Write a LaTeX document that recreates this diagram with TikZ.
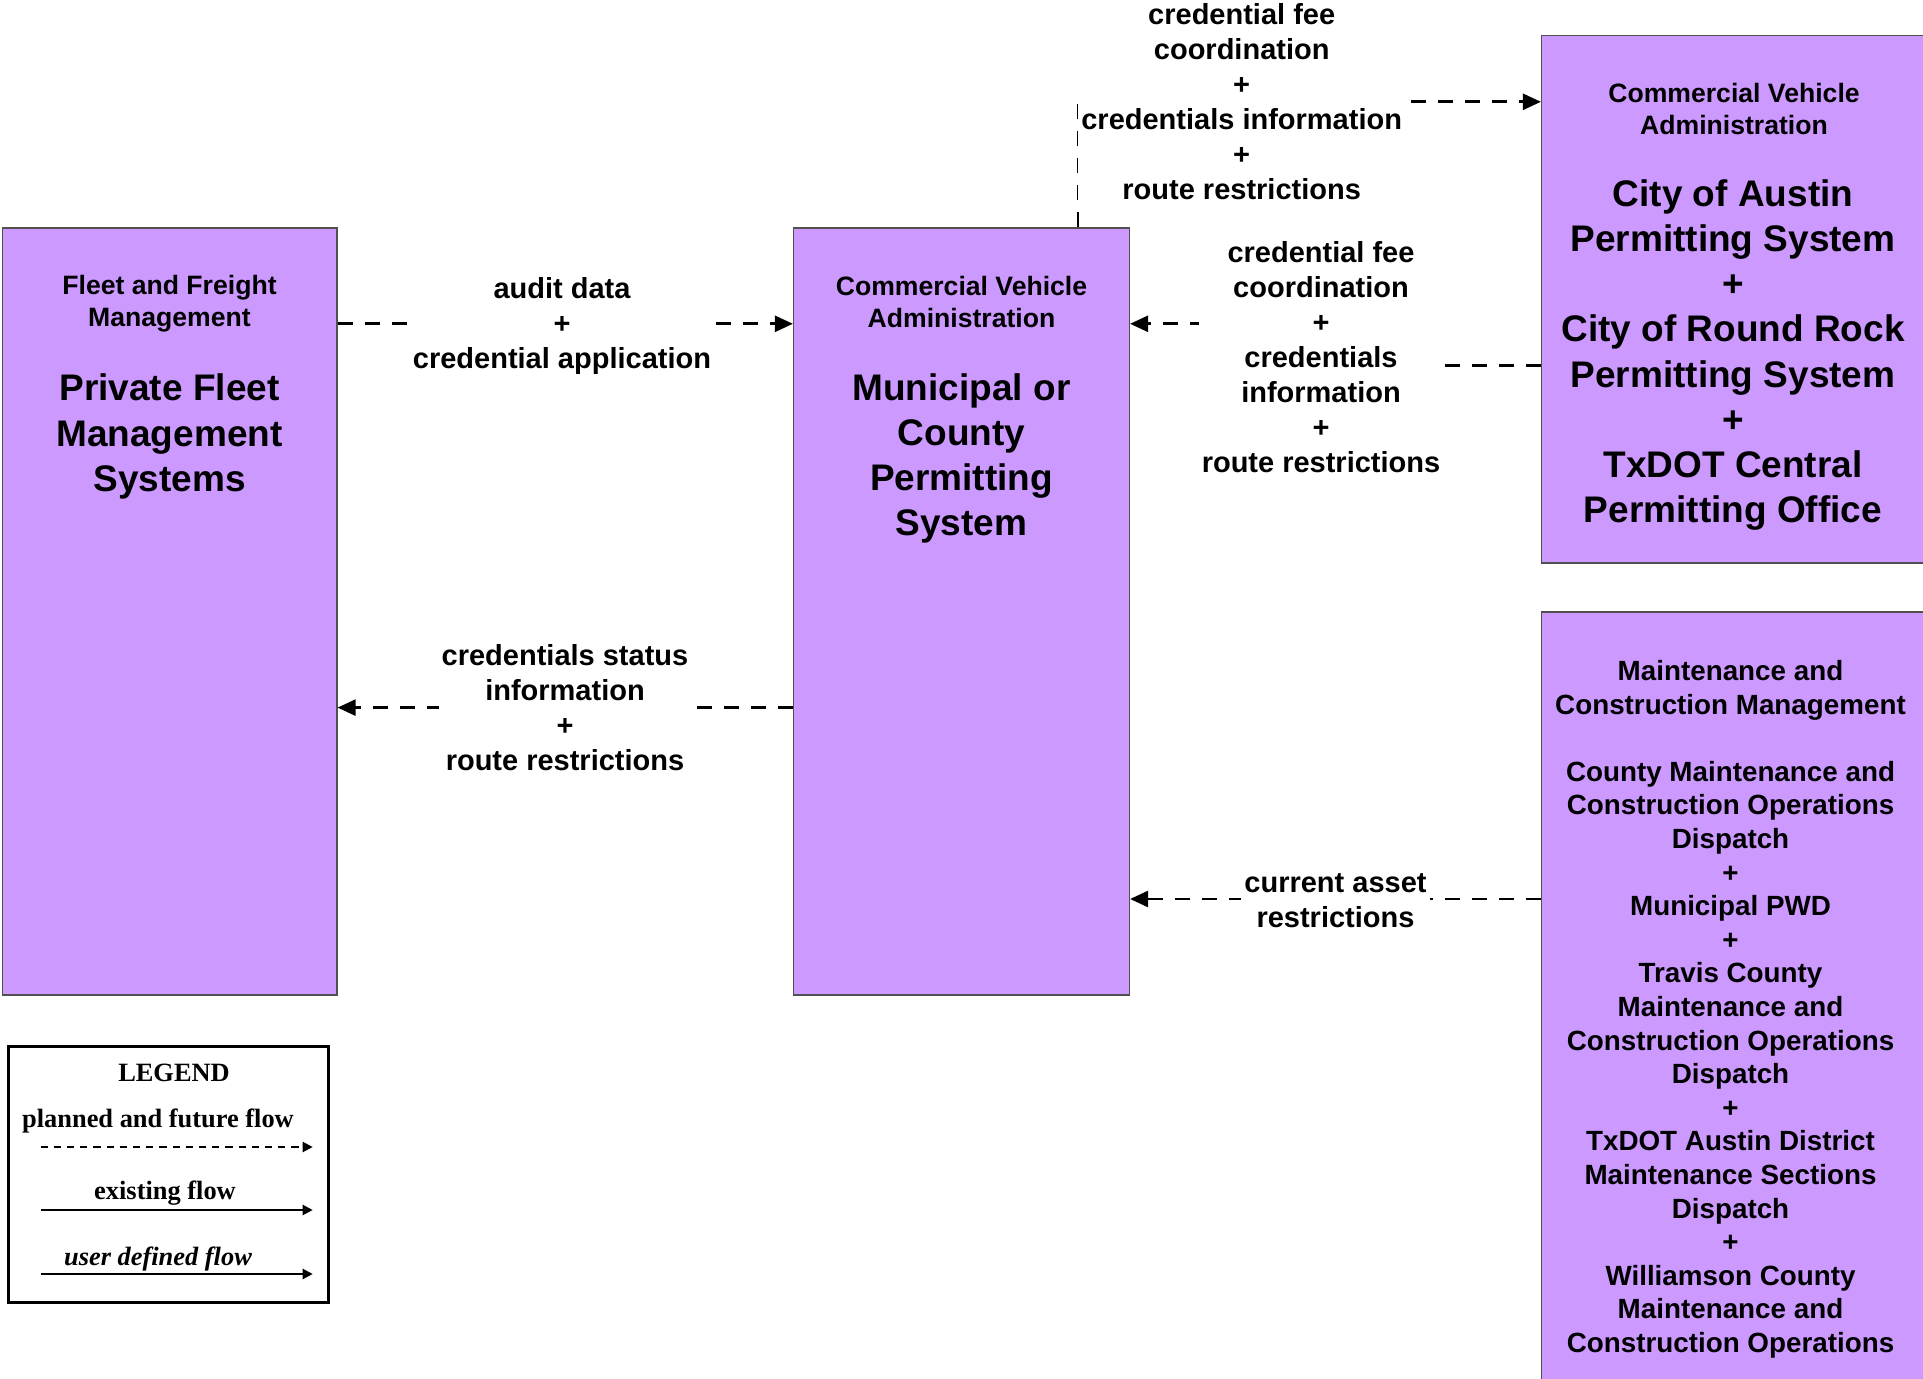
\documentclass[tikz,border=0pt]{standalone}
\usepackage{fontspec}
\setmainfont{Liberation Sans}
\newfontfamily\legfont{Liberation Serif}
\usetikzlibrary{arrows.meta}
\definecolor{boxpurple}{RGB}{204,153,255}
\definecolor{boxline}{RGB}{80,80,80}
\newcommand\myfsmall{\fontsize{13.3}{16}\selectfont\bfseries}
\newcommand\myfbig{\fontsize{18.5}{22.6}\selectfont\bfseries}
\newcommand\myflbl{\fontsize{14.5}{17.5}\selectfont\bfseries}
\newcommand\myfmc{\fontsize{13.9}{16.8}\selectfont\bfseries}
\newcommand\myfleg{\legfont\fontsize{13.2}{15}\selectfont\bfseries}
\begin{document}
\begin{tikzpicture}[x=0.5pt,y=-0.5pt,
  sysbox/.style={draw=boxline, fill=boxpurple, line width=0.6pt, inner sep=0pt},
  headtxt/.style={font=\myfsmall, align=center, inner sep=0pt},
  bigtxt/.style={font=\myfbig, align=center, inner sep=0pt},
  mctxt/.style={font=\myfmc, align=center, inner sep=0pt},
  lbl/.style={font=\myflbl, align=center, fill=white, inner sep=1.5pt},
  flow/.style={line width=1.3pt, dash pattern=on 7.5pt off 6pt, -{Triangle[length=9pt,width=8pt]}},
  legtxt/.style={font=\myfleg, inner sep=0pt},
  legdash/.style={line width=1.1pt, dash pattern=on 3.6pt off 3pt, -{Triangle[length=5pt,width=5pt]}},
  legsolid/.style={line width=1.1pt, -{Triangle[length=5pt,width=5pt]}}
]
\useasboundingbox (0,0) rectangle (1923,1379);

% boxes
\node[sysbox, minimum width=167.25pt, minimum height=383.5pt] (left) at (169.75,611.5) {};
\node[sysbox, minimum width=168pt, minimum height=383.5pt] (mid) at (961.5,611.5) {};
\node[sysbox, minimum width=192.75pt, minimum height=263.7pt] (tr) at (1734.25,299.3) {};
\node[sysbox, minimum width=192.75pt, minimum height=389pt] (br) at (1734.25,1001) {};

% box texts
\node[headtxt] (lefthead) at (169.5,304.1) {Fleet and Freight\\Management};
\node[bigtxt] (leftbig) at (169.5,436.5) {Private Fleet\\Management\\Systems};
\node[headtxt] (midhead) at (961.5,301.6) {Commercial Vehicle\\Administration};
\node[bigtxt] (midbig) at (961.5,458.5) {Municipal or\\County\\Permitting\\System};
\node[headtxt] (trhead) at (1734,109) {Commercial Vehicle\\Administration};
\node[bigtxt] (trbig) at (1733,355) {City of Austin\\Permitting System\\+\\City of Round Rock\\Permitting System\\+\\TxDOT Central\\Permitting Office};
\node[mctxt] (brtxt) at (1730.5,1009.4) {Maintenance and\\Construction Management\\[16.8pt]County Maintenance and\\Construction Operations\\Dispatch\\+\\Municipal PWD\\+\\Travis County\\Maintenance and\\Construction Operations\\Dispatch\\+\\TxDOT Austin District\\Maintenance Sections\\Dispatch\\+\\Williamson County\\Maintenance and\\Construction Operations};

% connectors
\draw[flow] (left.east |- 0,323.8) -- (mid.west |- 0,323.8);
\draw[flow] (mid.west |- 0,707.6) -- (left.east |- 0,707.6);
\draw[flow] (mid.north -| 1078,0) |- (tr.west |- 0,101.8);
\draw[flow] (tr.west |- 0,365.5) -- (1321,365.5) |- (mid.east |- 0,323.8);
\draw[flow] (br.west |- 0,899) -- (mid.east |- 0,899);

% labels
\node[lbl] (l1) at (562,326.5) {audit data\\+\\credential application};
\node[lbl] (l2) at (565,707.5) {credentials status\\information\\+\\route restrictions};
\node[lbl] (l3) at (1241.7,101.2) {credential fee\\coordination\\+\\credentials information\\+\\route restrictions};
\node[lbl] (l4) at (1321,357.5) {credential fee\\coordination\\+\\credentials\\information\\+\\route restrictions};
\node[lbl] (l5) at (1335.5,900.5) {current asset\\restrictions};

% legend
\node[draw=black, line width=1.5pt, minimum width=160pt, minimum height=128pt, inner sep=0pt] (legend) at (168.65,1174) {};
\node[legtxt] (legtitle) at (174,1073) {LEGEND};
\node[legtxt] (legplan) at (158,1121.5) {planned and future flow};
\coordinate (lps) at (40.5,1147);
\coordinate (lpe) at (312.7,1147);
\draw[legdash] (lps) -- (lpe);
\node[legtxt] (legexist) at (165,1193.5) {existing flow};
\coordinate (les) at (40.5,1210);
\coordinate (lee) at (312.7,1210);
\draw[legsolid] (les) -- (lee);
\node[legtxt, font=\myfleg\itshape] (leguser) at (158,1259.5) {user defined flow};
\coordinate (lus) at (40.5,1274);
\coordinate (lue) at (312.7,1274);
\draw[legsolid] (lus) -- (lue);
\end{tikzpicture}
\end{document}
